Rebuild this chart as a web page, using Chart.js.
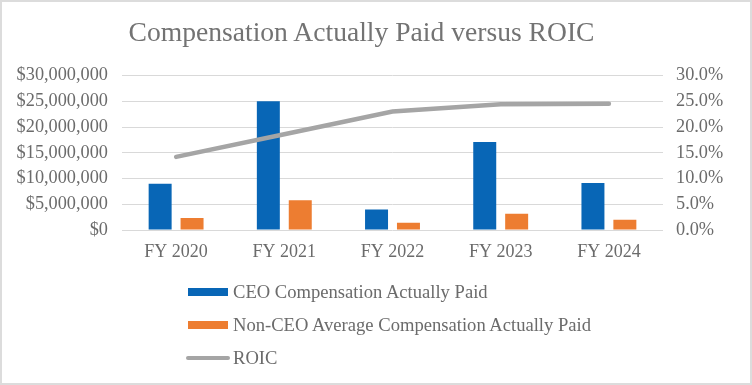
<!DOCTYPE html>
<html>
<head>
<meta charset="utf-8">
<script src="https://cdn.jsdelivr.net/npm/chart.js@4/dist/chart.umd.min.js"></script>
<style>
  html, body { margin: 0; padding: 0; background: #fff; }
  #wrap { position: relative; width: 752px; height: 385px; }
  #frame { position: absolute; left: 0; top: 0; width: 752px; height: 385px; box-sizing: border-box;
           border: 2px solid #dcdcdc; pointer-events: none; }
  #titulo { position: absolute; left: 0; top: 15px; width: 723px; text-align: center;
            font-family: "Liberation Serif", serif; font-size: 27.6px; line-height: 34px; color: #737373; }
  #legend { position: absolute; left: 186px; top: 275px; margin: 0; padding: 0; list-style: none;
            font-family: "Liberation Serif", serif; font-size: 18.6px; color: #6b6b6b; }
  #legend li { height: 33px; line-height: 26px; display: flex; align-items: center; }
  #legend .sw { display: inline-block; width: 40px; height: 8px; margin: 0 5px 0 2px; }
  #legend .ln { width: 44px; height: 4px; border-radius: 2px; margin: 0 3px 0 0; }
</style>
</head>
<body>
<div id="wrap">
  <canvas id="myChart" width="752" height="385"></canvas>
  <div id="titulo">Compensation Actually Paid versus ROIC</div>
  <ul id="legend"></ul>
  <div id="frame"></div>
</div>
<script>
const years = ['FY 2020', 'FY 2021', 'FY 2022', 'FY 2023', 'FY 2024']
const ceoPaid = [9000000, 25000000, 4000000, 17100000, 9150000]
const nonCeoPaid = [2330000, 5780000, 1420000, 3170000, 2000000]
const roic = [14.2, 18.6, 23.0, 24.4, 24.5]
const moneyTicks = [0, 5000000, 10000000, 15000000, 20000000, 25000000, 30000000]
const pctTicks = [0, 5, 10, 15, 20, 25, 30]

const gris = '#6b6b6b'
const fuente = 'Liberation Serif'

const datos = {
    labels: years,
    datasets: [
        { type: 'bar', label: 'CEO Compensation Actually Paid', data: ceoPaid,
          backgroundColor: '#0866b6', yAxisID: 'y', order: 2,
          categoryPercentage: 0.59, barPercentage: 0.72 },
        { type: 'bar', label: 'Non-CEO Average Compensation Actually Paid', data: nonCeoPaid,
          backgroundColor: '#ed7d31', yAxisID: 'y', order: 2,
          categoryPercentage: 0.59, barPercentage: 0.72 },
        { type: 'line', label: 'ROIC', data: roic, borderColor: '#a5a5a5', backgroundColor: '#a5a5a5',
          borderWidth: 4.5, pointRadius: 0, tension: 0, borderCapStyle: 'round',
          yAxisID: 'y1', order: 0 }
    ]
}

const chart = new Chart(document.getElementById('myChart'), {
    data: datos,
    options: {
        responsive: false,
        animation: false,
        layout: { padding: { top: 75.5, left: 0, right: 0, bottom: 0 } },
        plugins: {
            legend: { display: false },
            tooltip: { enabled: false },
            title: { display: false }
        },
        scales: {
            x: {
                grid: { display: false, drawTicks: false },
                border: { display: false },
                ticks: { color: gris, font: { family: fuente, size: 18 }, padding: 11 },
                afterFit: s => { s.height = 155 }
            },
            y: {
                position: 'left',
                min: 0, max: 30000000,
                afterBuildTicks: s => { s.ticks = moneyTicks.map(v => ({ value: v })) },
                grid: { color: '#d9d9d9', lineWidth: 1, drawTicks: false },
                border: { display: false },
                ticks: { color: gris, font: { family: fuente, size: 18.3 }, padding: 14,
                         callback: v => '$' + v.toLocaleString('en-US') },
                afterFit: s => { s.width = 122 }
            },
            y1: {
                position: 'right',
                min: 0, max: 30,
                afterBuildTicks: s => { s.ticks = pctTicks.map(v => ({ value: v })) },
                grid: { display: false, drawTicks: false },
                border: { display: false },
                ticks: { color: gris, font: { family: fuente, size: 18.3 }, padding: 13,
                         callback: v => v.toFixed(1) + '%' },
                afterFit: s => { s.width = 89 }
            }
        }
    }
})

// leyenda en html, una fila por serie
const legend = document.getElementById('legend')
for (const ds of chart.data.datasets) {
    const li = document.createElement('li')
    const sw = document.createElement('span')
    sw.className = ds.type === 'line' ? 'sw ln' : 'sw'
    sw.style.background = ds.backgroundColor
    li.appendChild(sw)
    li.appendChild(document.createTextNode(ds.label))
    legend.appendChild(li)
}
</script>
</body>
</html>
